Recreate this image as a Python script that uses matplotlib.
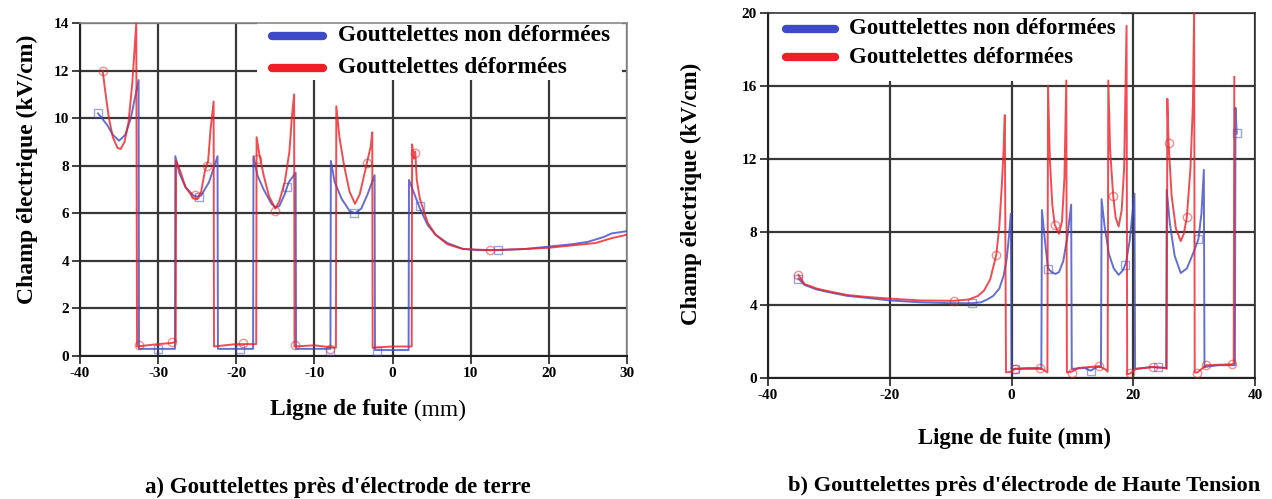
import matplotlib
matplotlib.use("Agg")
import matplotlib.pyplot as plt
from matplotlib.patches import Rectangle

plt.rcParams["font.family"] = ["Liberation Serif", "DejaVu Serif"]
plt.rcParams["axes.unicode_minus"] = False

# ---- panel a) : droplets near ground electrode ----
a_blue_x = [-37.7, -37.2, -36.5, -35.8, -35.0, -34.2, -33.5, -33.0, -32.5, -32.45, -30.0, -27.85,
            -27.8, -27.3, -26.5, -25.5, -25.0, -24.5, -23.5, -22.8, -22.4, -22.35, -20.0, -17.85,
            -17.8, -17.3, -16.5, -15.5, -15.0, -14.5, -13.8, -13.3, -12.4, -12.35, -10.0, -7.95,
            -7.9, -7.4, -6.5, -5.5, -4.8, -4.0, -3.2, -2.3, -2.25, 0.0, 2.05,
            2.1, 2.8, 3.5, 4.5, 5.5, 7.0, 9.0, 11.0, 13.5, 17.0, 20.0, 23.0, 25.0, 27.0, 28.0, 30.0]
a_blue_y = [10.2, 10.0, 9.7, 9.3, 9.05, 9.3, 10.0, 10.8, 11.6, 0.3, 0.3, 0.3,
            8.4, 7.7, 7.1, 6.75, 6.7, 6.75, 7.3, 8.0, 8.4, 0.3, 0.3, 0.3,
            8.4, 7.6, 7.0, 6.4, 6.25, 6.3, 6.8, 7.3, 7.7, 0.3, 0.3, 0.3,
            8.2, 7.3, 6.6, 6.1, 6.0, 6.2, 6.8, 7.6, 0.25, 0.25, 0.25,
            7.4, 6.8, 6.2, 5.5, 5.1, 4.75, 4.5, 4.45, 4.45, 4.5, 4.6, 4.7, 4.8, 5.0, 5.15, 5.25]

a_red_x = [-37.1, -36.8, -36.3, -35.8, -35.2, -34.8, -34.3, -33.8, -33.3, -32.8, -32.7, -30.0,
           -28.2, -27.75, -27.7, -27.2, -26.5, -25.5, -25.0, -24.5, -24.0, -23.6, -23.3, -22.9,
           -22.85, -20.0, -17.45, -17.4, -17.0, -16.5, -15.8, -15.0, -14.5, -13.8, -13.2, -12.9,
           -12.6, -12.55, -10.0, -7.5, -7.25, -7.2, -6.8, -6.2, -5.5, -4.8, -4.2, -3.5, -3.3,
           -2.8, -2.6, -2.55, 0.0, 2.45, 2.5, 2.7, 2.9, 3.1, 3.5, 4.5, 5.5, 7.0, 9.0, 12.5,
           17.0, 20.0, 23.0, 26.0, 28.0, 30.0]
a_red_y = [12.0, 11.2, 10.0, 9.2, 8.75, 8.7, 9.0, 9.8, 11.5, 14.0, 0.4, 0.5,
           0.55, 0.6, 8.2, 7.8, 7.1, 6.65, 6.6, 6.9, 7.8, 8.2, 9.5, 10.7,
           0.4, 0.5, 0.5, 9.2, 8.4, 7.6, 6.7, 6.2, 6.5, 7.3, 8.6, 10.0,
           11.0, 0.4, 0.45, 0.35, 0.35, 10.5, 9.2, 8.0, 6.9, 6.4, 6.8, 7.8, 8.1,
           8.8, 9.4, 0.35, 0.4, 0.4, 8.9, 8.3, 8.6, 7.4, 6.6, 5.6, 5.1, 4.7, 4.5, 4.45,
           4.5, 4.55, 4.65, 4.75, 4.95, 5.1]

a_blue_mx = [-37.7, -30.0, -24.8, -19.5, -13.5, -8.0, -5.0, -2.0, 3.5, 13.5]
a_blue_my = [10.2, 0.3, 6.7, 0.3, 7.1, 0.2, 6.0, 0.2, 6.3, 4.45]
a_red_mx = [-37.1, -32.4, -28.2, -25.3, -23.7, -19.2, -17.3, -15.0, -12.5, -8.0, -3.3, 2.9, 12.5]
a_red_my = [12.0, 0.45, 0.6, 6.75, 8.0, 0.55, 8.3, 6.1, 0.45, 0.3, 8.1, 8.55, 4.45]

# ---- panel b) : droplets near high-voltage electrode ----
b_blue_x = [-35.0, -34.0, -32.0, -30.0, -27.0, -24.0, -20.0, -15.0, -10.0, -6.5, -5.0, -4.0,
            -3.0, -2.0, -1.3, -0.8, -0.4, -0.1, 0.0, 2.0, 4.9,
            5.0, 5.5, 6.0, 6.6, 7.2, 7.8, 8.5, 9.2, 9.8, 9.9, 12.0, 13.0, 14.0, 14.7,
            14.8, 15.3, 16.0, 16.8, 17.6, 18.3, 18.8, 19.4, 20.2, 20.3, 23.0, 25.4,
            25.5, 26.0, 26.8, 27.8, 28.8, 29.8, 30.7, 31.2, 31.6, 31.7, 34.0, 36.7,
            36.8, 37.0]
b_blue_y = [5.45, 5.1, 4.85, 4.7, 4.5, 4.4, 4.25, 4.15, 4.1, 4.1, 4.15, 4.3,
            4.5, 4.9, 5.6, 6.5, 7.8, 9.0, 0.5, 0.5, 0.5,
            9.2, 7.5, 6.0, 5.8, 5.7, 5.8, 6.4, 7.8, 9.5, 0.5, 0.55, 0.4, 0.6, 0.6,
            9.8, 8.3, 6.8, 6.0, 5.65, 5.9, 6.3, 7.5, 10.1, 0.5, 0.6, 0.55,
            10.3, 8.5, 6.7, 5.75, 6.0, 6.8, 7.6, 9.0, 11.4, 0.6, 0.7, 0.7,
            14.8, 13.4]

b_red_x = [-35.0, -34.0, -32.0, -30.0, -27.0, -24.0, -20.0, -15.0, -9.5, -7.0, -5.5, -4.5,
           -3.5, -2.5, -2.0, -1.6, -1.3, -1.1, -0.9, 0.0, 0.5, 2.5, 4.7, 5.5, 5.9,
           6.0, 6.3, 6.7, 7.1, 7.8, 8.3, 8.7, 9.0, 9.1, 9.9, 11.0, 14.4, 15.5, 15.8,
           15.9, 16.2, 16.7, 17.1, 17.6, 18.1, 18.5, 18.9, 19.0, 19.5, 20.5, 23.3, 25.2, 25.5,
           25.6, 25.8, 26.3, 27.0, 27.8, 28.3, 28.8, 29.4, 29.8, 30.0, 30.1, 30.5, 32.0, 36.2, 36.5,
           36.6]
b_red_y = [5.65, 5.15, 4.9, 4.75, 4.55, 4.45, 4.35, 4.25, 4.23, 4.3, 4.5, 4.8,
           5.4, 6.75, 8.3, 10.5, 12.5, 14.4, 0.3, 0.35, 0.5, 0.55, 0.55, 0.4, 0.3,
           16.0, 12.0, 9.5, 8.4, 7.9, 8.6, 11.0, 16.3, 0.3, 0.35, 0.55, 0.65, 0.45, 0.35,
           16.3, 12.5, 10.0, 8.8, 8.3, 9.2, 11.5, 19.3, 0.2, 0.25, 0.5, 0.6, 0.55, 0.5,
           15.3, 12.9, 10.0, 8.2, 7.5, 7.9, 8.8, 11.5, 15.0, 20.0, 0.3, 0.3, 0.7, 0.75, 0.8,
           16.5]

b_blue_mx = [-35.0, -6.5, 0.5, 6.0, 13.0, 18.7, 24.0, 30.7, 37.0]
b_blue_my = [5.45, 4.1, 0.5, 6.0, 0.4, 6.2, 0.6, 7.6, 13.4]
b_red_mx = [-35.0, -9.5, -2.5, 0.5, 4.7, 7.1, 9.9, 14.4, 16.7, 19.4, 23.3, 25.8, 28.8, 30.5, 32.0, 36.2]
b_red_my = [5.65, 4.23, 6.75, 0.5, 0.55, 8.4, 0.3, 0.65, 10.0, 0.25, 0.6, 12.9, 8.8, 0.3, 0.7, 0.75]

labels = ["Gouttelettes non déformées", "Gouttelettes déformées"]
BLUE = "#3f4bc6"
RED = "#ee1f26"
GRID = "#383838"

fig = plt.figure(figsize=(12.72, 4.99), dpi=100)
axL = fig.add_axes([80 / 1272, 1 - 356 / 499, 547 / 1272, 333 / 499])
axR = fig.add_axes([768 / 1272, 1 - 378 / 499, 487 / 1272, 365 / 499])


def draw(ax, bx, by, rx, ry, bmx, bmy, rmx, rmy):
    ax.plot(bx, by, color=BLUE, lw=1.4, alpha=0.8, zorder=3)
    ax.plot(rx, ry, color=RED, lw=1.4, alpha=0.8, zorder=4)
    ax.plot(bmx, bmy, ls="none", marker="s", ms=6, mfc="none", mec=BLUE, mew=1, alpha=0.5, zorder=3)
    ax.plot(rmx, rmy, ls="none", marker="o", ms=6, mfc="none", mec=RED, mew=1, alpha=0.5, zorder=4)


def style(ax, xlim, xticks, ylim, yticks):
    ax.set_xlim(*xlim)
    ax.set_ylim(*ylim)
    ax.set_xticks(xticks)
    ax.set_yticks(yticks)
    ax.grid(True, color=GRID, lw=1.6)
    ax.set_axisbelow(True)
    for s in ["left", "bottom"]:
        ax.spines[s].set_color("#222222")
        ax.spines[s].set_linewidth(1.5)
    for s in ["top", "right"]:
        ax.spines[s].set_color("#8a8a8a")
        ax.spines[s].set_linewidth(1.2)
    ax.tick_params(direction="out", length=6, width=1.3, color="#333333", pad=2)
    for lab in ax.get_xticklabels() + ax.get_yticklabels():
        lab.set_fontweight("bold")
        lab.set_fontsize(11)


def legend(ax, box, hx, rows, tx, fs):
    ax.add_patch(Rectangle(box[0], box[1], box[2], transform=ax.transData,
                           facecolor="white", edgecolor="none", zorder=1.5))
    for col, yy, lab in zip([BLUE, RED], rows, labels):
        ax.plot(hx, [yy, yy], color=col, lw=6, solid_capstyle="round",
                transform=ax.transAxes, zorder=6, clip_on=False)
        ax.text(tx, yy, lab, transform=ax.transAxes, fontsize=fs, fontweight="bold",
                va="center", ha="left", zorder=6)


# panel a
draw(axL, a_blue_x, a_blue_y, a_red_x, a_red_y, a_blue_mx, a_blue_my, a_red_mx, a_red_my)
style(axL, (-40, 30), range(-40, 31, 10), (0, 14), range(0, 15, 2))
legend(axL, ((-17.3, 11.6), 46.7, 2.4), [0.351, 0.445], [0.961, 0.865], 0.471, 16.8)
axL.set_ylabel("Champ électrique (kV/cm)", fontsize=17, fontweight="bold")
axL.yaxis.set_label_coords(-0.077, 0.56)

# panel b
draw(axR, b_blue_x, b_blue_y, b_red_x, b_red_y, b_blue_mx, b_blue_my, b_red_mx, b_red_my)
style(axR, (-40, 40), range(-40, 41, 20), (0, 20), range(0, 21, 4))
legend(axR, ((-39.6, 16.3), 57.6, 3.7), [0.037, 0.138], [0.957, 0.879], 0.166, 16.5)
axR.spines["top"].set_color("#333333")
axR.spines["right"].set_color("#333333")
axR.set_ylabel("Champ électrique (kV/cm)", fontsize=16.6, fontweight="bold")
axR.yaxis.set_label_coords(-0.136, 0.505)

# x labels and captions
fig.text(408 / 1272, 1 - 410 / 499, "Ligne de fuite", fontsize=16.8, fontweight="bold",
         ha="right", va="center")
fig.text(408 / 1272, 1 - 410 / 499, " (mm)", fontsize=16.8, ha="left", va="center")
fig.text(1015 / 1272, 1 - 438 / 499, "Ligne de fuite (mm)", fontsize=16.4, fontweight="bold",
         ha="center", va="center")
fig.text(338 / 1272, 1 - 487 / 499, "a) Gouttelettes près d'électrode de terre",
         fontsize=16.5, fontweight="bold", ha="center", va="center")
fig.text(1024 / 1272, 1 - 486 / 499, "b) Gouttelettes près d'électrode de Haute Tension",
         fontsize=16.2, fontweight="bold", ha="center", va="center")

fig.savefig("out.png", dpi=100)
